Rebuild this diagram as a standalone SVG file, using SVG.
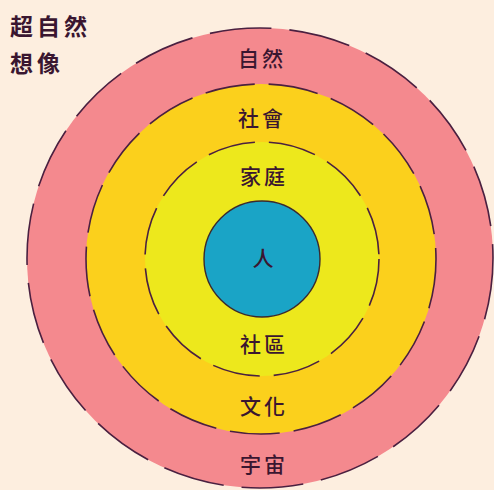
<svg xmlns="http://www.w3.org/2000/svg" width="494" height="490" viewBox="0 0 494 490">
<style>
.lbl{font-family:"Noto Sans CJK TC","Noto Sans CJK SC",sans-serif;font-size:21px;font-weight:500;fill:#3a1630;text-anchor:middle;dominant-baseline:central;letter-spacing:3px}
.ring{stroke:#4a2040;stroke-width:1.6;fill:none}
.corner{text-anchor:start;font-size:23px;letter-spacing:4px;font-weight:700}
</style>
<rect width="494" height="490" fill="#fdeedf"/>
<g id="nature">
<ellipse cx="260" cy="258" rx="233" ry="230" fill="#f4898e"/>
<ellipse class="ring" cx="260" cy="258" rx="233" ry="230" stroke-dasharray="62 18"/>
<text class="lbl" x="262" y="57">自然</text>
<text class="lbl" x="264" y="463">宇宙</text>
</g>
<g id="society">
<circle cx="261" cy="259" r="175" fill="#fbd01c"/>
<circle class="ring" cx="261" cy="259" r="175" stroke-dasharray="50 14"/>
<text class="lbl" x="262" y="117">社會</text>
<text class="lbl" x="264" y="405">文化</text>
</g>
<g id="family">
<circle cx="262" cy="259" r="117" fill="#ede81c"/>
<circle class="ring" cx="262" cy="259" r="117" stroke-dasharray="48 14"/>
<text class="lbl" x="264" y="175">家庭</text>
<text class="lbl" x="264" y="343">社區</text>
</g>
<g id="person">
<circle cx="262" cy="259" r="58" fill="#1aa4c6" stroke="#3a2a30" stroke-width="1.4"/>
<text class="lbl" x="263" y="257" style="letter-spacing:0">人</text>
</g>
<g id="labels">
<text class="lbl corner" x="10" y="25">超自然</text>
<text class="lbl corner" x="10" y="62">想像</text>
</g>
<g id="connectors"/>
</svg>
